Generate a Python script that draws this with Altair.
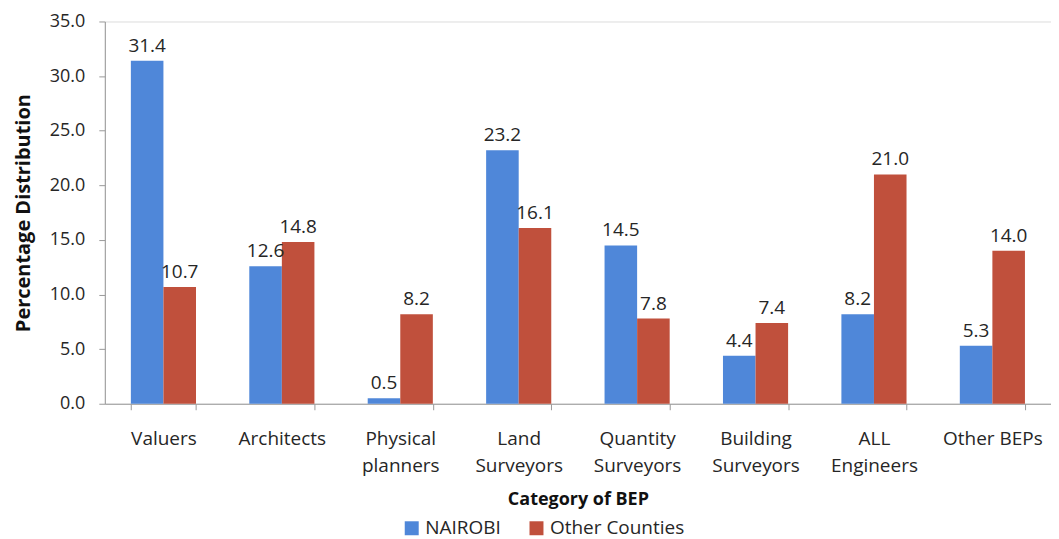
import altair as alt
import pandas as pd

categories = ["Valuers", "Architects", "Physical|planners", "Land|Surveyors",
              "Quantity|Surveyors", "Building|Surveyors", "ALL|Engineers", "Other BEPs"]
nairobi = [31.4, 12.6, 0.5, 23.2, 14.5, 4.4, 8.2, 5.3]
other_counties = [10.7, 14.8, 8.2, 16.1, 7.8, 7.4, 21.0, 14.0]
series = ["NAIROBI", "Other Counties"]
colors = ["#4F87D9", "#C0503C"]

rows = []
for c, a, b in zip(categories, nairobi, other_counties):
    rows.append({"cat": c, "series": series[0], "value": a})
    rows.append({"cat": c, "series": series[1], "value": b})
df = pd.DataFrame(rows)

FONT = "Open Sans"
TXT = "#262626"

x = alt.X("cat:N", sort=categories, title="Category of BEP",
          scale=alt.Scale(paddingInner=0.45, paddingOuter=0.22),
          axis=alt.Axis(labelAngle=0,
                        labelExpr="isValid(datum.value) ? split(datum.value, '|') : ''",
                        labelFontSize=19, labelFont=FONT, labelColor=TXT,
                        labelPadding=20, labelLineHeight=27,
                        titleFontSize=18, titleFont=FONT, titleFontWeight="bold",
                        titleColor="#111", titlePadding=15,
                        tickBand="extent", tickSize=6, tickColor="#999",
                        domainColor="#999"))
y = alt.Y("value:Q", title="Percentage Distribution",
          scale=alt.Scale(domain=[0, 35]),
          axis=alt.Axis(values=[0, 5, 10, 15, 20, 25, 30, 35], format=".1f",
                        grid=False, labelFontSize=18, labelFont=FONT, labelColor=TXT,
                        labelPadding=14, tickSize=6, tickColor="#999", domainColor="#999",
                        titleFontSize=20, titleFont=FONT, titleFontWeight="bold",
                        titleColor="#111", titlePadding=16))
color = alt.Color("series:N", sort=series,
                  scale=alt.Scale(domain=series, range=colors),
                  legend=alt.Legend(title=None, orient="none", direction="horizontal",
                                    legendX=298, legendY=498,
                                    labelFontSize=19, labelFont=FONT, labelColor=TXT,
                                    symbolType="square", symbolSize=196,
                                    symbolStrokeWidth=0, columnPadding=26,
                                    labelOffset=4))

base = alt.Chart(df).encode(x=x, xOffset=alt.XOffset("series:N", sort=series))

bars = base.mark_bar().encode(y=y, color=color)
labels = base.mark_text(dy=-15, fontSize=19, font=FONT, color=TXT).encode(
    y=alt.Y("value:Q"), text=alt.Text("value:Q", format=".1f"))

chart = (bars + labels).properties(
    width=948, height=383,
    autosize=alt.AutoSizeParams(type="none"),
    padding={"left": 97, "top": 13, "right": 0, "bottom": 135},
).configure_view(stroke=None).configure(background="white")

chart.save("out.html", embed_options={"renderer": "svg", "actions": False})
